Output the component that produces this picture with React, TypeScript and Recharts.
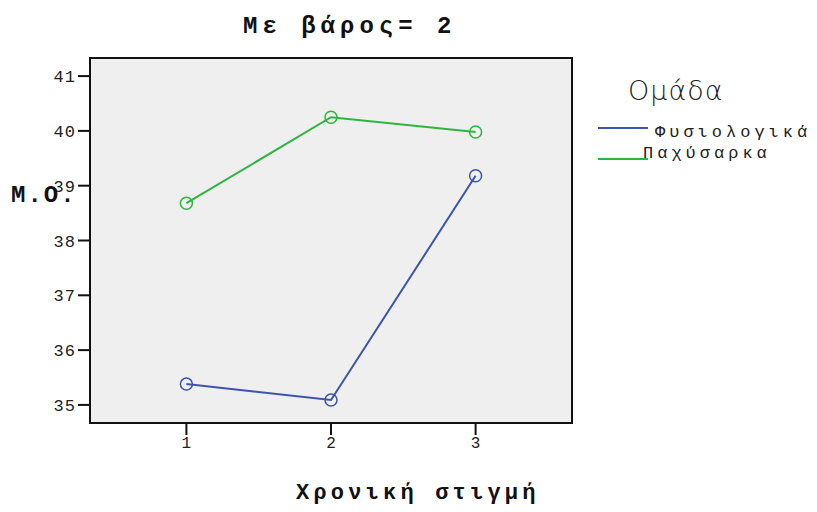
import { Line, LineChart, ReferenceArea, XAxis, YAxis } from "recharts";

const timePoints = [1, 2, 3];
const normalWeight = [35.38, 35.09, 39.18];
const overweight = [38.68, 40.25, 39.98];
const yTicks = [35, 36, 37, 38, 39, 40, 41];
const seriesNames = ["Φυσιολογικά", "Παχύσαρκα"];

const BLUE = "#3b55aa";
const GREEN = "#2db53f";
const MONO = "'Liberation Mono', 'DejaVu Sans Mono', monospace";

const data = timePoints.map((t, i) => ({
  t,
  [seriesNames[0]]: normalWeight[i],
  [seriesNames[1]]: overweight[i],
}));

function LegendBox() {
  return (
    <svg width={220} height={110} style={{ position: "absolute", left: 598, top: 70 }}>
      <text x={30} y={30} fontSize={27} fill="#222" fontFamily="'DejaVu Sans', sans-serif" fontWeight={300} letterSpacing={1}>
        Ομάδα
      </text>
      <line x1={0} y1={58} x2={50} y2={58} stroke={BLUE} strokeWidth={2} />
      <text x={57} y={67} fontSize={17} fill="#222" fontFamily={MONO} letterSpacing={4}>
        {seriesNames[0]}
      </text>
      <line x1={0} y1={89} x2={50} y2={89} stroke={GREEN} strokeWidth={2} />
      <text x={45} y={88} fontSize={17} fill="#222" fontFamily={MONO} letterSpacing={4}>
        {seriesNames[1]}
      </text>
    </svg>
  );
}

export default function App() {
  const bold = { position: "absolute" as const, fontFamily: MONO, fontWeight: "bold", color: "#111", whiteSpace: "nowrap" as const };
  return (
    <div style={{ position: "absolute", left: 0, top: 0, width: 817, height: 512, background: "#fff" }}>
      <LineChart
        width={817}
        height={512}
        data={data}
        margin={{ top: 58, right: 245, bottom: 49, left: 0 }}
      >
        <XAxis
          dataKey="t"
          type="number"
          domain={[1 / 3, 11 / 3]}
          ticks={timePoints}
          axisLine={false}
          tickSize={12}
          tickLine={{ stroke: "#111", strokeWidth: 2 }}
          tick={{ fontSize: 16, fill: "#222", fontFamily: MONO }}
          height={40}
        />
        <YAxis
          type="number"
          domain={[34.67, 41.33]}
          ticks={yTicks}
          axisLine={false}
          tickSize={12}
          tickLine={{ stroke: "#111", strokeWidth: 2 }}
          tick={{ fontSize: 17, fill: "#222", fontFamily: MONO, letterSpacing: 1 }}
          width={90}
        />
        <ReferenceArea
          x1={1 / 3}
          x2={11 / 3}
          y1={34.67}
          y2={41.33}
          fill="#efefef"
          fillOpacity={1}
          stroke="#111"
          strokeWidth={2}
        />
        <Line
          dataKey={seriesNames[0]}
          stroke={BLUE}
          strokeWidth={2}
          dot={{ r: 6, fill: "none", stroke: BLUE, strokeWidth: 1.5 }}
          isAnimationActive={false}
        />
        <Line
          dataKey={seriesNames[1]}
          stroke={GREEN}
          strokeWidth={2}
          dot={{ r: 6, fill: "none", stroke: GREEN, strokeWidth: 1.5 }}
          isAnimationActive={false}
        />
      </LineChart>
      <div style={{ ...bold, left: 243, top: 13, fontSize: 24, letterSpacing: 5 }}>Με βάρος= 2</div>
      <div style={{ ...bold, left: 11, top: 182, fontSize: 24, letterSpacing: 2 }}>M.O.</div>
      <div style={{ ...bold, left: 296, top: 481, fontSize: 22, letterSpacing: 4.2 }}>Χρονική στιγμή</div>
      <LegendBox />
    </div>
  );
}
